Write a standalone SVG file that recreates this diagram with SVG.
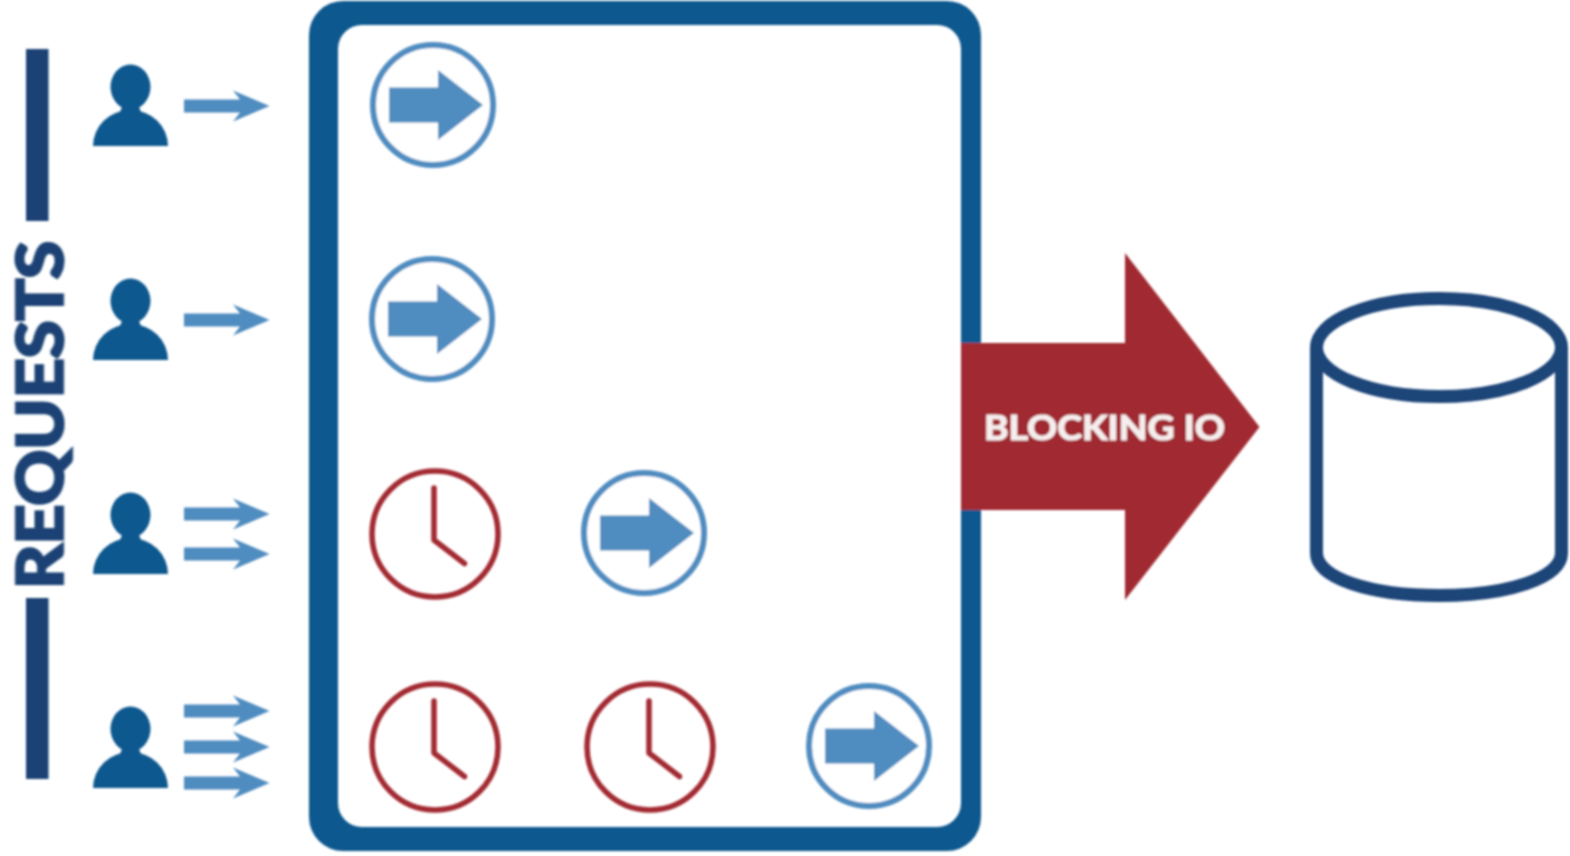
<svg xmlns="http://www.w3.org/2000/svg" width="1570" height="856" viewBox="0 0 1570 856">
<style>
.person{fill:#11588f}
.flow{fill:#4f8cc0}
.ring{fill:#fff;stroke:#4f8cc0;stroke-width:6}
.clock{fill:none;stroke:#a32a33;stroke-width:5.500;stroke-linecap:round;stroke-linejoin:round}
.bar{fill:#1b4274}
.cyl{fill:none;stroke:#1c4478;stroke-width:13}
text{font-family:"Lato","Open Sans","Liberation Sans",sans-serif;font-weight:700}
</style>
<defs>
<filter id="soft" filterUnits="userSpaceOnUse" x="0" y="0" width="1570" height="856"><feGaussianBlur stdDeviation="0.8"/></filter>
<g id="user"><ellipse cx="130.500" cy="87" rx="20" ry="22.500"/><path d="M93 146A37.500 36 0 0 1 168 146Z"/><path d="M112 118C121 113 123 108 121 102H140C138 108 140 113 149 118Z"/></g>
<path id="flowarrow" d="M0 -6.500H56L49 -15.500L85.500 0L49 15.500L56 6.500H0Z"/>
<g id="run"><circle r="60" class="ring"/><path class="flow" d="M-44 -17.500H5V-35L50 0L5 35V17.500H-44Z"/></g>
<g id="wait"><circle r="63" class="clock"/><path class="clock" d="M-1 -46V6L29.500 29.500"/></g>
</defs>
<rect width="1570" height="856" fill="#fff"/>
<g filter="url(#soft)">
<g id="requests-label">
<rect class="bar" x="26" y="49" width="22.500" height="172"/>
<rect class="bar" x="26" y="598" width="22.500" height="181"/>
<text transform="translate(62.500 589) rotate(-90)" font-size="63" fill="#1b4274" stroke="#1b4274" stroke-width="3" textLength="348" lengthAdjust="spacingAndGlyphs">REQUESTS</text>
</g>
<g id="user-1"><use href="#user" class="person"/></g>
<g id="user-2"><use href="#user" class="person" y="214"/></g>
<g id="user-3"><use href="#user" class="person" y="428"/></g>
<g id="user-4"><use href="#user" class="person" y="642"/></g>
<g id="server">
<path fill="#11588f" fill-rule="evenodd" d="M343 1H947A34 34 0 0 1 981 35V817A34 34 0 0 1 947 851H343A34 34 0 0 1 309 817V35A34 34 0 0 1 343 1ZM362 25A24 24 0 0 0 338 49V803A24 24 0 0 0 362 827H937A24 24 0 0 0 961 803V49A24 24 0 0 0 937 25Z"/>
</g>
<g id="connectors">
<use href="#flowarrow" class="flow" x="184" y="106"/>
<use href="#flowarrow" class="flow" x="184" y="320"/>
<use href="#flowarrow" class="flow" x="184" y="514"/>
<use href="#flowarrow" class="flow" x="184" y="554"/>
<use href="#flowarrow" class="flow" x="184" y="711"/>
<use href="#flowarrow" class="flow" x="184" y="747"/>
<use href="#flowarrow" class="flow" x="184" y="783"/>
</g>
<g id="run-1"><use href="#run" x="433" y="105"/></g>
<g id="run-2"><use href="#run" x="432" y="319"/></g>
<g id="wait-3a"><use href="#wait" x="435" y="534"/></g>
<g id="run-3"><use href="#run" x="644" y="533"/></g>
<g id="wait-4a"><use href="#wait" x="435" y="747"/></g>
<g id="wait-4b"><use href="#wait" x="650" y="747"/></g>
<g id="run-4"><use href="#run" x="869" y="746"/></g>
<g id="blocking-io">
<path d="M961 343H1125V253L1259.500 427L1125 600V510H961Z" fill="#a12a30"/>
<text x="984" y="440" font-size="35" fill="#f6eeee" stroke="#f6eeee" stroke-width="1.200" textLength="241" lengthAdjust="spacingAndGlyphs">BLOCKING IO</text>
</g>
<g id="database">
<ellipse class="cyl" cx="1439" cy="347.500" rx="122.500" ry="49"/>
<path class="cyl" d="M1316.500 347.500V553C1316.500 578 1370 595.500 1439 595.500C1508 595.500 1561.500 578 1561.500 553V347.500"/>
</g>
</g>
</svg>
